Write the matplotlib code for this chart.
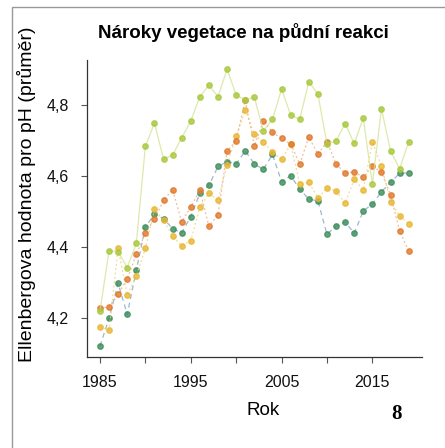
import matplotlib
matplotlib.use("Agg")
import matplotlib.pyplot as plt
from matplotlib.patches import Rectangle
from matplotlib.ticker import FuncFormatter

years = list(range(1985, 2020))

lime = [4.22, 4.39, 4.387, 4.342, 4.41, 4.684, 4.749, 4.648, 4.659, 4.708,
        4.755, 4.824, 4.856, 4.824, 4.901, 4.828, 4.815, 4.822, 4.727, 4.76,
        4.845, 4.772, 4.76, 4.866, 4.831, 4.69, 4.699, 4.748, 4.692, 4.763,
        4.578, 4.79, 4.671, 4.62, 4.697]
orange = [4.227, 4.232, 4.267, 4.31, 4.379, 4.44, 4.479, 4.532, 4.562, 4.471,
          4.513, 4.56, 4.458, 4.491, 4.67, 4.70, 4.813, 4.685, 4.756, 4.723,
          4.706, 4.69, 4.634, 4.71, 4.662, 4.697, 4.634, 4.608, 4.612, 4.596,
          4.629, 4.611, 4.547, 4.445, 4.389]
yellow = [4.175, 4.166, 4.396, 4.265, 4.318, 4.396, 4.506, 4.475, 4.431, 4.403,
          4.418, 4.512, 4.551, 4.532, 4.632, 4.712, 4.786, 4.718, 4.695, 4.667,
          4.647, 4.689, 4.578, 4.582, 4.539, 4.565, 4.559, 4.523, 4.591, 4.561,
          4.696, 4.628, 4.528, 4.487, 4.466]
green = [4.121, 4.199, 4.298, 4.21, 4.335, 4.456, 4.493, 4.48, 4.452, 4.44,
         4.486, 4.551, 4.574, 4.627, 4.641, 4.634, 4.671, 4.634, 4.619, 4.661,
         4.584, 4.601, 4.563, 4.535, 4.530, 4.436, 4.459, 4.471, 4.439, 4.502,
         4.521, 4.556, 4.582, 4.608, 4.609]

plt.rcParams['font.family'] = ['Liberation Sans', 'DejaVu Sans']

fig = plt.figure(figsize=(4.45, 4.48), dpi=100)
ax = fig.add_axes([0.1955, 0.203, 0.7525, 0.663])

# series: (values, marker colour, line colour, linestyle)
series = [
    (green, '#3f8f5c', '#7f9fc0', (0, (4, 3))),
    (yellow, '#e9b733', '#efd070', (0, (1.5, 2))),
    (orange, '#e07a2c', '#eaa578', (0, (1.5, 2))),
    (lime, '#a9c93e', '#d2e290', '-'),
]
for vals, mc, lc, ls in series:
    ax.plot(years, vals, color=lc, linestyle=ls, linewidth=0.9, alpha=0.75)
    ax.plot(years, vals, linestyle='none', marker='o', markersize=3.9,
            markerfacecolor=mc, markeredgecolor=mc, alpha=0.82)

ax.set_xlim(1983.57, 2020.45)
ax.set_ylim(4.09, 4.927)
ax.set_xticks([1985, 1995, 2005, 2015])
ax.set_xticks([1990, 2000, 2010], minor=True)
ax.set_yticks([4.2, 4.4, 4.6, 4.8])
ax.yaxis.set_major_formatter(FuncFormatter(lambda v, p: f"{v:.1f}".replace('.', ',')))
ax.tick_params(axis='both', which='both', length=4, width=0.8, color='#555555',
               labelsize=11.5, labelcolor='#111111')
ax.tick_params(axis='x', which='both', pad=9)
ax.tick_params(axis='y', which='both', pad=9)

for s in ['top', 'right']:
    ax.spines[s].set_visible(False)
for s in ['left', 'bottom']:
    ax.spines[s].set_color('#333333')
    ax.spines[s].set_linewidth(0.9)

ax.set_xlabel('Rok', fontsize=13.5)
ax.xaxis.set_label_coords(0.525, -0.152)
ax.set_ylabel('Ellenbergova hodnota pro pH (průměr)', fontsize=14)
ax.yaxis.set_label_coords(-0.151, 0.548)

fig.text(243 / 445, 1 - 33 / 448, 'Nároky vegetace na půdní reakci', fontsize=13.5,
         fontweight='bold', ha='center', va='center')

fig.text(0.89, 0.075, '8', fontsize=15, fontweight='bold', family='Liberation Serif',
         ha='center', va='center')

fig.patches.append(Rectangle((0.027, -0.2), 1.2, 1.184, transform=fig.transFigure,
                             fill=False, edgecolor='#999999', linewidth=1))

fig.savefig('out.png', dpi=100)
